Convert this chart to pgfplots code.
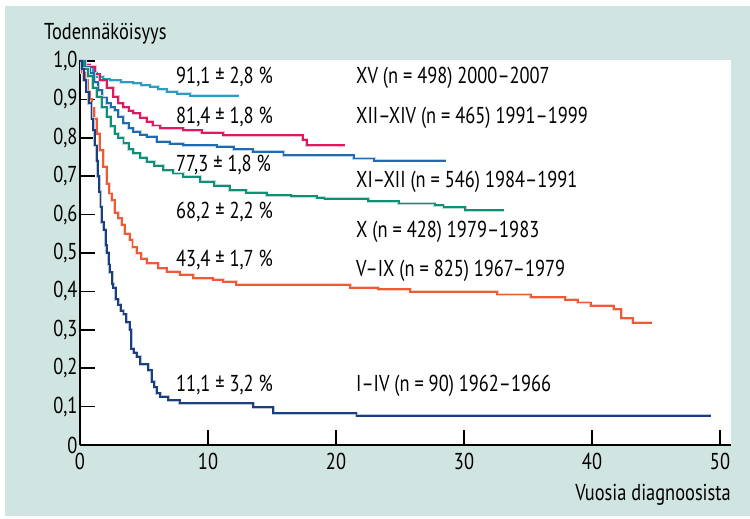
\documentclass[border=0pt]{standalone}
\usepackage{fontspec}
\setmainfont{PT Sans}[FakeStretch=0.8]
\usepackage{pgfplots}
\usepackage{pgfplotstable}
\pgfplotsset{compat=1.18}
\definecolor{bgteal}{HTML}{D0E5E1}
\definecolor{cI}{HTML}{1B3F7E}
\definecolor{cV}{HTML}{EE5A36}
\definecolor{cX}{HTML}{0E8F76}
\definecolor{cXI}{HTML}{1D6BB2}
\definecolor{cXII}{HTML}{E0185E}
\definecolor{cXV}{HTML}{2A9DC0}

\pgfplotstableread{
t s
0 1.0
0.15 0.98
0.3 0.95
0.5 0.92
0.7 0.89
0.9 0.85
1.04 0.82
1.17 0.78
1.3 0.74
1.4 0.70
1.5 0.66
1.6 0.62
1.7 0.58
1.85 0.56
2.0 0.52
2.1 0.50
2.25 0.47
2.34 0.45
2.5 0.42
2.6 0.41
2.8 0.38
3.0 0.365
3.2 0.35
3.4 0.34
3.6 0.32
3.9 0.30
4.0 0.25
4.2 0.24
4.43 0.23
4.69 0.21
5.34 0.195
5.6 0.165
5.8 0.15
6.0 0.135
6.25 0.126
6.9 0.117
7.8 0.109
13.55 0.098
15.1 0.083
21.6 0.076
49.3 0.076
}\dataI

\pgfplotstableread{
t s
0 1.0
0.13 0.97
0.4 0.95
0.6 0.92
0.78 0.90
0.91 0.877
1.1 0.85
1.3 0.81
1.56 0.768
1.82 0.725
2.08 0.68
2.3 0.655
2.48 0.638
2.73 0.605
3.0 0.59
3.26 0.573
3.5 0.55
3.9 0.534
4.1 0.515
4.43 0.499
4.8 0.485
5.2 0.473
6.1 0.46
6.77 0.451
7.8 0.443
8.85 0.434
10.4 0.43
11.2 0.425
12.2 0.417
21.1 0.41
23.3 0.406
25.8 0.399
32.6 0.392
35.2 0.385
37.9 0.378
38.9 0.371
39.9 0.362
41.7 0.353
42.3 0.33
43.2 0.318
44.7 0.318
}\dataV

\pgfplotstableread{
t s
0 1.0
0.3 0.98
0.65 0.96
1.0 0.93
1.3 0.907
1.7 0.88
2.08 0.855
2.4 0.83
2.73 0.81
3.0 0.80
3.4 0.786
3.8 0.77
4.17 0.76
4.7 0.748
5.2 0.738
5.8 0.727
6.5 0.716
7.3 0.707
8.07 0.699
9.4 0.686
10.5 0.675
11.7 0.664
13.0 0.657
14.6 0.651
16.5 0.648
18.5 0.644
19.1 0.641
22.5 0.635
24.9 0.629
27.7 0.624
28.4 0.619
30.1 0.611
33.1 0.611
}\dataX

\pgfplotstableread{
t s
0 1.0
0.4 0.985
0.78 0.968
1.1 0.945
1.43 0.924
1.75 0.905
2.08 0.89
2.4 0.88
2.73 0.872
3.0 0.855
3.39 0.838
3.8 0.825
4.17 0.816
4.7 0.808
5.2 0.803
6.0 0.79
7.0 0.785
8.07 0.781
10.7 0.777
12.0 0.77
13.5 0.764
15.9 0.755
21.4 0.746
23.0 0.74
28.6 0.74
}\dataXI

\pgfplotstableread{
t s
0 1.0
0.4 0.99
0.78 0.985
1.2 0.965
1.56 0.95
2.1 0.93
2.6 0.907
3.0 0.89
3.38 0.88
3.8 0.87
4.17 0.864
4.7 0.852
5.2 0.842
5.7 0.832
6.25 0.825
8.07 0.82
9.5 0.813
11.2 0.807
17.4 0.795
17.7 0.781
20.7 0.781
}\dataXII

\pgfplotstableread{
t s
0 1.0
0.3 0.99
0.65 0.985
1.0 0.97
1.3 0.959
1.8 0.953
2.34 0.95
3.2 0.945
4.17 0.942
4.8 0.937
5.47 0.933
6.1 0.926
6.77 0.92
7.6 0.915
8.6 0.91
12.4 0.91
}\dataXV

\newcommand{\fs}{\fontsize{23bp}{27bp}\selectfont}

\begin{document}
\begin{tikzpicture}
\useasboundingbox (0,0) rectangle (750bp,519bp);
\fill[white] (0,0) rectangle (750bp,519bp);
\fill[bgteal] (5bp,3bp) rectangle (750bp,513bp);
\fill[white] (80bp,74bp) rectangle (731bp,459bp);
\begin{axis}[
  at={(80bp,74bp)}, anchor=south west,
  scale only axis, width=651bp, height=385bp,
  xmin=0, xmax=50.86, ymin=0, ymax=1.0026,
  axis x line*=bottom, axis y line*=left,
  axis line style={line width=1.6bp, black},
  tick align=inside, major tick length=15bp,
  tick style={line width=1.6bp, black},
  xtick={0,10,20,30,40,50},
  xticklabels={0,10,20,30,40,50},
  ytick={0,0.1,0.2,0.3,0.4,0.5,0.6,0.7,0.8,0.9,1.0},
  yticklabels={0,{0,1},{0,2},{0,3},{0,4},{0,5},{0,6},{0,7},{0,8},{0,9},{1,0}},
  ticklabel style={font=\fs},
  yticklabel style={xshift=1bp},
  xticklabel style={yshift=-5bp},
  clip=false,
  halo/.style={const plot, line width=3bp, draw=#1!30},
  main/.style={const plot, line width=1.9bp, draw=#1},
]
\addplot[halo=cXV] table {\dataXV};
\addplot[main=cXV] table {\dataXV};
\addplot[halo=cXII] table {\dataXII};
\addplot[main=cXII] table {\dataXII};
\addplot[halo=cXI] table {\dataXI};
\addplot[main=cXI] table {\dataXI};
\addplot[halo=cX] table {\dataX};
\addplot[main=cX] table {\dataX};
\addplot[halo=cV] table {\dataV};
\addplot[main=cV] table {\dataV};
\addplot[halo=cI] table {\dataI};
\addplot[main=cI] table {\dataI};
\end{axis}
\begin{scope}[every node/.style={font=\fs, inner sep=0pt}]
\node[anchor=base west] at (44bp,479bp) {Todennäköisyys};
\node[anchor=base east] at (731bp,19bp) {Vuosia diagnoosista};
\node[anchor=base west] at (176bp,435.7bp) {91,1 ± 2,8 \%};
\node[anchor=base west] at (176bp,395.7bp) {81,4 ± 1,8 \%};
\node[anchor=base west] at (176bp,347.3bp) {77,3 ± 1,8 \%};
\node[anchor=base west] at (176bp,300.7bp) {68,2 ± 2,2 \%};
\node[anchor=base west] at (176bp,252.3bp) {43,4 ± 1,7 \%};
\node[anchor=base west] at (176bp,127.3bp) {11,1 ± 3,2 \%};
\node[anchor=base west] at (356bp,435.7bp) {XV (n = 498) 2000–2007};
\node[anchor=base west] at (356bp,395bp) {XII–XIV (n = 465) 1991–1999};
\node[anchor=base west] at (356bp,331.7bp) {XI–XII (n = 546) 1984–1991};
\node[anchor=base west] at (356bp,281.3bp) {X (n = 428) 1979–1983};
\node[anchor=base west] at (356bp,242.3bp) {V–IX (n = 825) 1967–1979};
\node[anchor=base west] at (356bp,127.3bp) {I–IV (n = 90) 1962–1966};
\end{scope}
\end{tikzpicture}
\end{document}
